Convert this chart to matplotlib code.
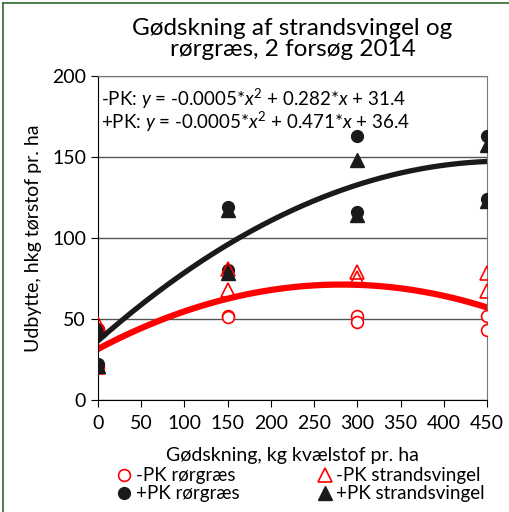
import numpy as np
import matplotlib
matplotlib.use("Agg")
import matplotlib.pyplot as plt
from matplotlib.lines import Line2D

plt.rcParams['font.family'] = ['Lato', 'DejaVu Sans']
plt.rcParams['mathtext.fontset'] = 'custom'
plt.rcParams['mathtext.rm'] = 'Lato'
plt.rcParams['mathtext.it'] = 'Lato:italic'

# kvælstof (kg N/ha), to forsøg per niveau
n_levels = [0, 0, 150, 150, 300, 300, 450, 450]

minus_pk_rorgraes = [20, 44, 52, 51, 52, 48, 52, 43]
minus_pk_strandsvingel = [47, 20, 81, 68, 79, 75, 78, 67]
plus_pk_rorgraes = [43, 22, 119, 80, 163, 116, 163, 124]
plus_pk_strandsvingel = [43, 21, 117, 78, 148, 114, 157, 123]

# andengradspolynomier (a, b, c)
coef_minus_pk = [-0.0005, 0.282, 31.4]
coef_plus_pk = [-0.0005, 0.471, 36.4]

fig = plt.figure(figsize=(5.1, 5.12), dpi=100)
ax = fig.add_axes([0.192, 0.219, 0.763, 0.633])

xs = np.linspace(0, 450, 200)
ax.plot(xs, np.polyval(coef_minus_pk, xs), color='red', lw=4.5, zorder=2)
ax.plot(xs, np.polyval(coef_plus_pk, xs), color='#1a1a1a', lw=3.8, zorder=2)

ms = 8.5
ax.plot(n_levels, minus_pk_rorgraes, 'o', ms=ms, mfc='white', mec='red', mew=1.2,
        label='-PK rørgræs', zorder=3)
ax.plot(n_levels, plus_pk_rorgraes, 'o', ms=ms, color='#1a1a1a',
        label='+PK rørgræs', zorder=3)
ax.plot(n_levels, minus_pk_strandsvingel, '^', ms=ms + 1, mfc='none', mec='red', mew=1.2,
        label='-PK strandsvingel', zorder=3)
ax.plot(n_levels, plus_pk_strandsvingel, '^', ms=ms + 1, color='#1a1a1a',
        label='+PK strandsvingel', zorder=3)

ax.set_xlim(0, 450)
ax.set_ylim(0, 200)
ax.set_xticks(range(0, 451, 50))
ax.set_yticks(range(0, 201, 50))
ax.yaxis.grid(True, color='#555555', lw=1)
ax.set_axisbelow(True)
for s in ax.spines.values():
    s.set_color('#777777')
ax.spines['left'].set_color('black')
ax.spines['bottom'].set_color('black')
ax.tick_params(labelsize=14, length=5, direction='out')
ax.tick_params(axis='x', pad=6)

ax.set_title('Gødskning af strandsvingel og\nrørgræs, 2 forsøg 2014', fontsize=17.5,
             linespacing=1.0, pad=14)
ax.set_xlabel('Gødskning, kg kvælstof pr. ha', fontsize=14, labelpad=11)
ax.set_ylabel('Udbytte, hkg tørstof pr. ha', fontsize=14, labelpad=7)

ax.text(3, 186, '-PK: $y$ = -0.0005*$x^2$ + 0.282*$x$ + 31.4', fontsize=13.5, va='center')
ax.text(3, 171.5, '+PK: $y$ = -0.0005*$x^2$ + 0.471*$x$ + 36.4', fontsize=13.5, va='center')

fig.legend(loc='lower center', bbox_to_anchor=(0.587, -0.014), ncol=2, frameon=False,
           fontsize=13.5, handletextpad=0.05, columnspacing=4.0, labelspacing=0.05,
           handlelength=1.1)

fig.add_artist(Line2D([0.005, 0.005], [0, 0.995], transform=fig.transFigure,
                      color='#2e6b2e', lw=1.2))
fig.add_artist(Line2D([0.005, 1], [0.995, 0.995], transform=fig.transFigure,
                      color='#2e6b2e', lw=1.2))

fig.savefig('out.png', dpi=100)
